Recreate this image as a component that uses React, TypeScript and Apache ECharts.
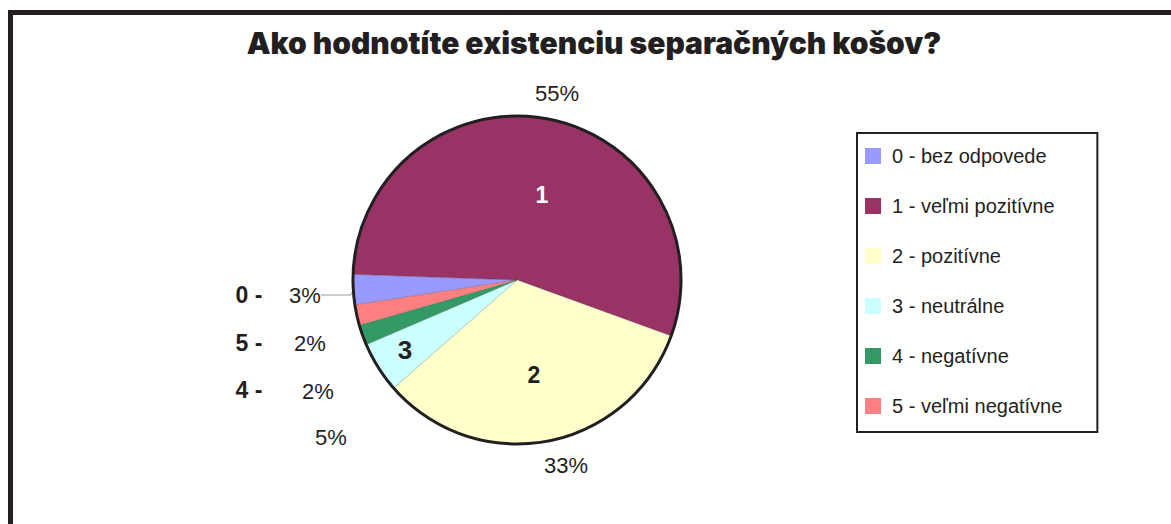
import React, { useEffect, useRef } from 'react';
import * as echarts from 'echarts';

const titleText = 'Ako hodnotíte existenciu separačných košov?';
const categories = [
  '0 - bez odpovede',
  '1 - veľmi pozitívne',
  '2 - pozitívne',
  '3 - neutrálne',
  '4 - negatívne',
  '5 - veľmi negatívne',
];
const shares = [3, 55, 33, 5, 2, 2];
const sliceColors = ['#9999FF', '#993366', '#FFFFCC', '#CCFFFF', '#339966', '#FF8080'];

// Hand-placed label anchors of the original chart (page pixels)
const pctLabelPos: (number[] | null)[] = [[305, 295], [557, 93], [566, 465], [331, 437], [318, 391], [310, 343]];
const codeLabelPos: (number[] | null)[] = [[249, 295], null, null, null, [249, 390], [249, 343]];
const innerLabelPos: (number[] | null)[] = [null, [542, 195], [534, 375], [405, 350], null, null];

const CENTER = [517, 280];
const RADIUS = 164;

export default function App() {
  const ref = useRef<HTMLDivElement>(null);
  useEffect(() => {
    if (!ref.current) return;
    const chart = echarts.init(ref.current, undefined, { renderer: 'svg' });
    const total = shares.reduce((a, b) => a + b, 0);
    // slice "1" starts just above the 9 o'clock position; slice "0" precedes it
    const startAngle = 178 + (shares[0] / total) * 360;
    const font = 'Liberation Sans, Arial, Helvetica, sans-serif';
    const baseData = categories.map((name, i) => ({ name, value: shares[i] }));
    const posLayout = (table: (number[] | null)[]) => (p: any) => {
      const pos = table[p.dataIndex];
      if (!pos) return {};
      return { x: pos[0], y: pos[1], align: 'center', verticalAlign: 'middle' };
    };
    const common = {
      type: 'pie',
      center: CENTER,
      radius: RADIUS,
      startAngle,
      clockwise: true,
      avoidLabelOverlap: false,
      emphasis: { disabled: true },
    };
    const option: any = {
      animation: false,
      backgroundColor: '#ffffff',
      tooltip: { show: false },
      legend: {
        data: categories,
        orient: 'vertical',
        left: 857,
        top: 133,
        itemWidth: 16,
        itemHeight: 16,
        itemGap: 30,
        icon: 'rect',
        padding: [13, 35, 16, 8],
        borderColor: '#231f20',
        borderWidth: 2,
        backgroundColor: '#ffffff',
        selectedMode: false,
        itemStyle: { borderWidth: 0 },
        textStyle: {
          fontFamily: font,
          fontSize: 20,
          color: '#231f20',
          lineHeight: 16,
          padding: [0, 0, 0, 6],
        },
      },
      graphic: [
        { type: 'rect', shape: { x: 8, y: 10, width: 1200, height: 5 }, style: { fill: '#231f20' }, silent: true },
        { type: 'rect', shape: { x: 8, y: 10, width: 5, height: 520 }, style: { fill: '#231f20' }, silent: true },
        {
          type: 'text',
          x: 594,
          y: 43,
          silent: true,
          style: {
            text: titleText,
            align: 'center',
            verticalAlign: 'middle',
            fontFamily: 'Inter, Lato, sans-serif',
            fontWeight: 900,
            fontSize: 30,
            fill: '#231f20',
          },
        },
      ],
      series: [
        {
          ...common,
          name: 'slices',
          z: 2,
          data: baseData.map((d, i) => ({ ...d, itemStyle: { color: sliceColors[i] } })),
          itemStyle: { borderColor: 'rgba(60,60,60,0.35)', borderWidth: 0.6 },
          label: {
            show: true,
            position: 'inside',
            formatter: (p: any) => {
              if (!innerLabelPos[p.dataIndex]) return '';
              const code = p.name.split(' ')[0];
              return p.dataIndex === 1 ? `{w|${code}}` : p.dataIndex === 3 ? `{b|${code}}` : `{d|${code}}`;
            },
            rich: {
              w: { color: '#ffffff', fontSize: 23, fontWeight: 'bold', fontFamily: font },
              d: { color: '#231f20', fontSize: 23, fontWeight: 'bold', fontFamily: font },
              b: { color: '#231f20', fontSize: 26, fontWeight: 'bold', fontFamily: font },
            },
          },
          labelLine: { show: false },
          labelLayout: posLayout(innerLabelPos),
        },
        {
          ...common,
          name: 'percent',
          z: 3,
          silent: true,
          data: baseData.map((d, i) => ({ ...d, labelLine: { show: i === 0 } })),
          itemStyle: { color: 'rgba(0,0,0,0)', borderWidth: 0 },
          label: {
            show: true,
            position: 'outside',
            formatter: (p: any) => `${p.value}%`,
            fontFamily: font,
            fontSize: 22,
            color: '#231f20',
          },
          labelLine: { show: false, lineStyle: { color: '#9a9a9a', width: 1 } },
          labelLayout: posLayout(pctLabelPos),
        },
        {
          ...common,
          name: 'codes',
          z: 3,
          silent: true,
          data: baseData,
          itemStyle: { color: 'rgba(0,0,0,0)', borderWidth: 0 },
          label: {
            show: true,
            position: 'outside',
            formatter: (p: any) => (codeLabelPos[p.dataIndex] ? `${p.name.split(' ')[0]} -` : ''),
            fontFamily: font,
            fontSize: 23,
            fontWeight: 'bold',
            color: '#231f20',
          },
          labelLine: { show: false },
          labelLayout: posLayout(codeLabelPos),
        },
        {
          type: 'pie',
          name: 'outline',
          center: CENTER,
          radius: RADIUS,
          z: 4,
          silent: true,
          emphasis: { disabled: true },
          data: [{ name: 'outline', value: 1 }],
          itemStyle: { color: 'rgba(0,0,0,0)', borderColor: '#231f20', borderWidth: 3 },
          label: { show: false },
          labelLine: { show: false },
        },
      ],
    };
    chart.setOption(option);
    return () => chart.dispose();
  }, []);
  return (
    <div
      ref={ref}
      style={{ position: 'absolute', left: 0, top: 0, width: 1171, height: 524, background: '#fff' }}
    />
  );
}
